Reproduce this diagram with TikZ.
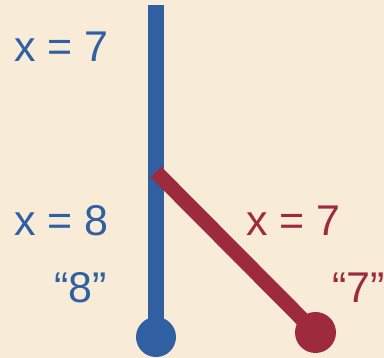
\documentclass[tikz,border=0pt]{standalone}
\usepackage{fontspec}
\setmainfont{Liberation Sans}
\definecolor{paperbg}{RGB}{248,236,216}
\definecolor{wireblue}{RGB}{48,96,162}
\definecolor{wirered}{RGB}{158,42,62}
\usetikzlibrary{positioning}

\begin{document}
\begin{tikzpicture}[
  x=1pt, y=-1pt,
  lbl/.style={font=\fontsize{43}{43}\selectfont, inner sep=0pt, anchor=base west},
  bluelbl/.style={lbl, text=wireblue},
  redlbl/.style={lbl, text=wirered},
  knob/.style={circle, inner sep=0pt, minimum size=40pt},
  wire/.style={line width=16pt},
]

% background
\fill[paperbg] (0,0) rectangle (384,358);
\useasboundingbox (0,0) rectangle (384,358);

% blue wire
\coordinate (top) at (156,5);
\coordinate (fork) at (156,172);
\node[knob, fill=wireblue] (bluedot) at (156,337) {};
\draw[wire, wireblue] (top) -- (bluedot.center);

% red wire
\node[knob, fill=wirered, minimum size=41pt] (reddot) at (315.5,332.5) {};
\draw[wire, wirered, line width=15pt] (fork) -- (reddot.center);

% labels
\node[bluelbl] (xseven) at (14,62) {x = 7};
\node[bluelbl] (xeight) at (14,236) {x = 8};
\node[bluelbl] (qeight) at (54,303) {“8”};
\node[redlbl] (xsevenr) at (246,236) {x = 7};
\node[redlbl] (qseven) at (332,303) {“7”};

\end{tikzpicture}
\end{document}
